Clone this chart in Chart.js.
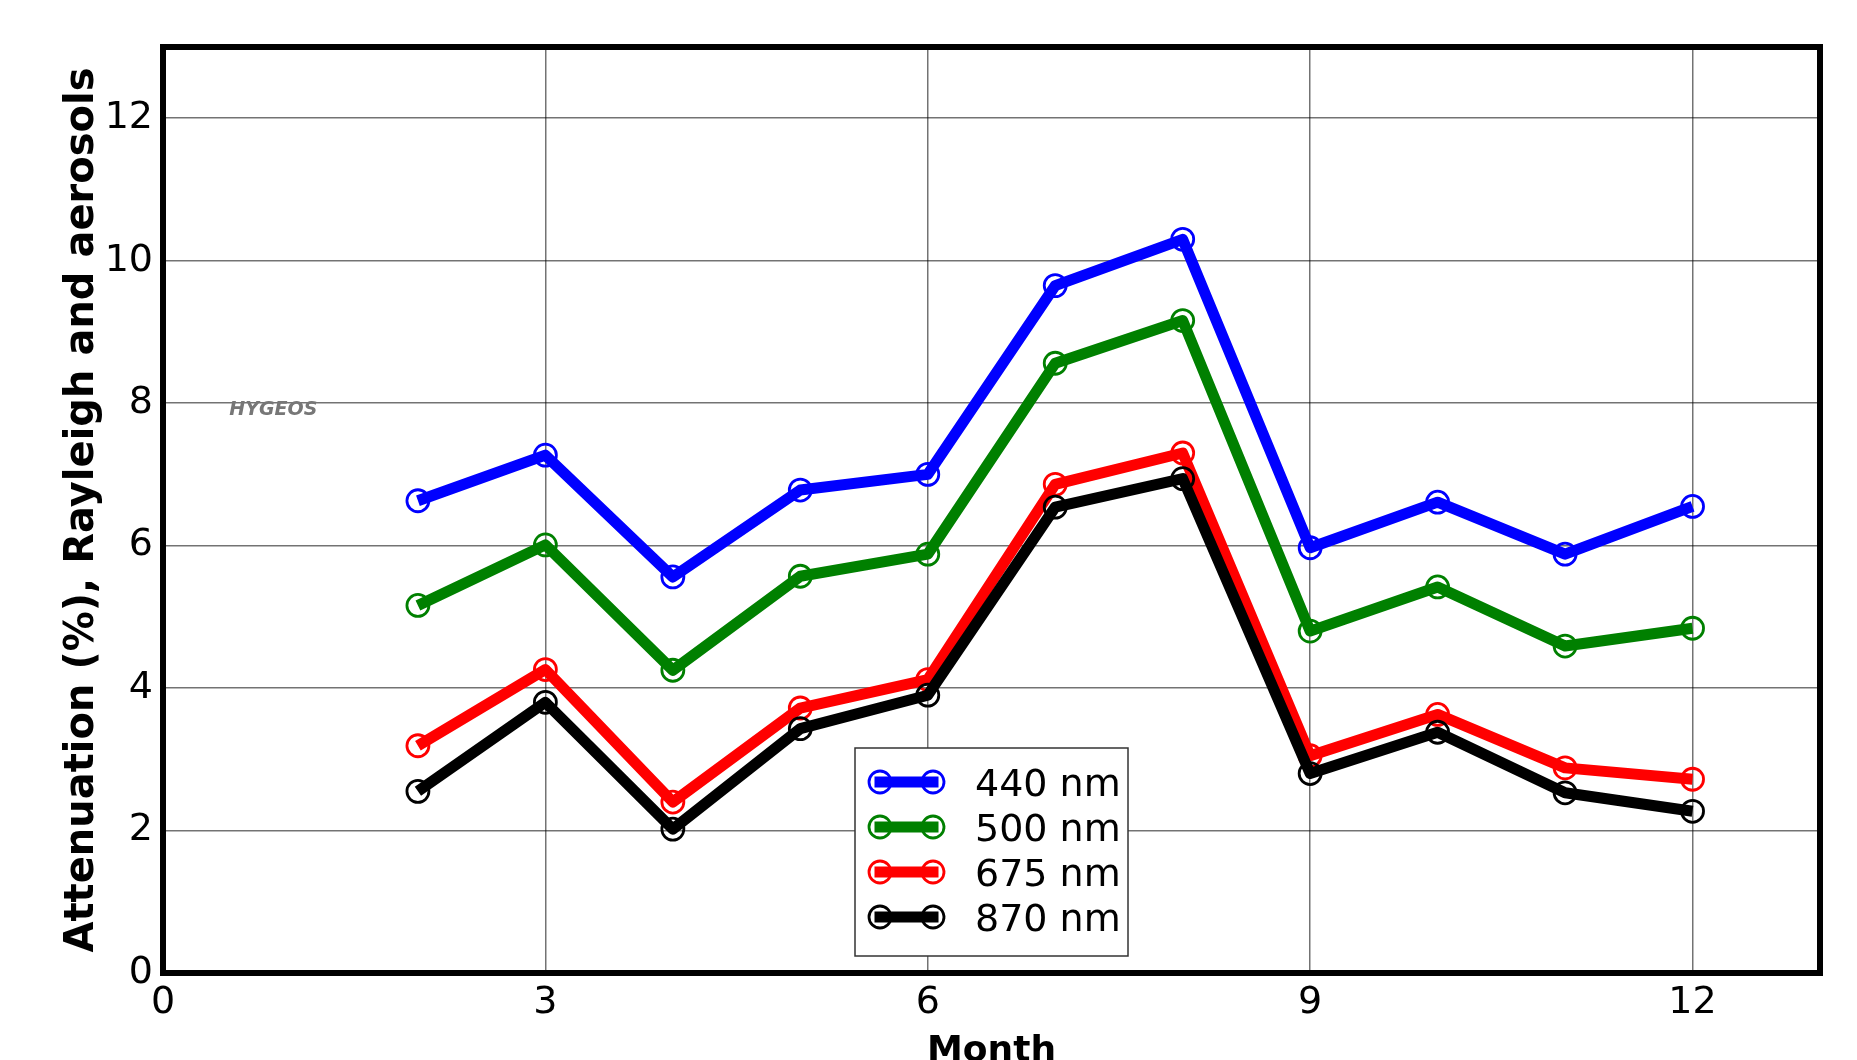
<!DOCTYPE html>
<html lang="en">
<head>
    <meta charset="UTF-8">
    <title>Attenuation by month</title>
    <script src="https://cdn.jsdelivr.net/npm/chart.js"></script>
    <style>
        html, body {
            margin: 0;
            padding: 0;
            background: #fff;
            overflow: hidden;
        }
        #wrap {
            position: relative;
            width: 1857px;
            height: 1080px;
        }
    </style>
</head>
<body>
    <div id="wrap"><canvas id="attChart"></canvas></div>

    <script>
        // data
        const months = [2, 3, 4, 5, 6, 7, 8, 9, 10, 11, 12];
        const att440 = [6.63, 7.27, 5.56, 6.78, 7.00, 9.65, 10.30, 5.97, 6.61, 5.88, 6.55];
        const att500 = [5.16, 6.01, 4.25, 5.57, 5.88, 8.56, 9.16, 4.80, 5.42, 4.59, 4.84];
        const att675 = [3.19, 4.26, 2.40, 3.72, 4.12, 6.86, 7.30, 3.05, 3.63, 2.88, 2.72];
        const att870 = [2.55, 3.80, 2.02, 3.43, 3.90, 6.54, 6.94, 2.80, 3.38, 2.53, 2.27];
        const seriesLabels = ['440 nm', '500 nm', '675 nm', '870 nm'];
        const seriesColors = ['#0000ff', '#008000', '#ff0000', '#000000'];
        const xTicks = [0, 3, 6, 9, 12];
        const yTicks = [0, 2, 4, 6, 8, 10, 12];

        const FONT = '"DejaVu Sans", "Liberation Sans", sans-serif';

        function series(values, i) {
            return {
                label: seriesLabels[i],
                data: months.map((m, k) => ({ x: m, y: values[k] })),
                borderColor: seriesColors[i],
                borderWidth: 11,
                borderJoinStyle: 'round',
                pointRadius: 11,
                pointBorderWidth: 2.8,
                pointBorderColor: seriesColors[i],
                pointBackgroundColor: 'rgba(0,0,0,0)',
                pointStyle: 'circle',
                order: 4 - i   // black drawn on top, like the original
            };
        }

        // frame, watermark and legend box drawn on top of the lines
        const framePlugin = {
            id: 'framePlugin',
            afterDatasetsDraw(chart) {
                const { ctx, chartArea: a, scales: { x, y } } = chart;
                ctx.save();

                ctx.font = 'italic bold 19px ' + FONT;
                ctx.fillStyle = '#777';
                ctx.textBaseline = 'middle';
                ctx.textAlign = 'left';
                ctx.fillText('HYGEOS', x.getPixelForValue(0.52), y.getPixelForValue(7.91));

                // legend
                const lx = a.left + 692, ly = a.top + 701, lw = 273, lh = 208;
                ctx.fillStyle = '#fff';
                ctx.fillRect(lx, ly, lw, lh);
                ctx.lineWidth = 1.5;
                ctx.strokeStyle = '#333';
                ctx.strokeRect(lx, ly, lw, lh);

                chart.data.datasets.forEach((ds, i) => {
                    const cy = ly + 34 + i * 45;
                    ctx.strokeStyle = ds.borderColor;
                    ctx.lineWidth = 11;
                    ctx.lineCap = 'square';
                    ctx.beginPath();
                    ctx.moveTo(lx + 25, cy);
                    ctx.lineTo(lx + 78, cy);
                    ctx.stroke();
                    ctx.lineWidth = 2.8;
                    [lx + 25, lx + 78].forEach(px => {
                        ctx.beginPath();
                        ctx.arc(px, cy, 11, 0, Math.PI * 2);
                        ctx.stroke();
                    });
                    ctx.fillStyle = '#000';
                    ctx.font = '38px ' + FONT;
                    ctx.textBaseline = 'alphabetic';
                    ctx.fillText(ds.label, lx + 120, cy + 14);
                });

                // thick axes box
                ctx.lineWidth = 6;
                ctx.strokeStyle = '#000';
                ctx.strokeRect(a.left, a.top, a.right - a.left, a.bottom - a.top);
                ctx.restore();
            }
        };

        const ctx = document.getElementById('attChart').getContext('2d');
        new Chart(ctx, {
            type: 'line',
            data: {
                datasets: [
                    series(att440, 0),
                    series(att500, 1),
                    series(att675, 2),
                    series(att870, 3)
                ]
            },
            options: {
                responsive: true,
                maintainAspectRatio: false,
                animation: false,
                devicePixelRatio: 1,
                layout: { padding: { left: 0, top: 47, right: 37, bottom: 0 } },
                plugins: {
                    legend: { display: false },
                    tooltip: { enabled: false }
                },
                scales: {
                    x: {
                        type: 'linear',
                        min: 0,
                        max: 13,
                        afterBuildTicks: s => { s.ticks = xTicks.map(v => ({ value: v })); },
                        afterFit: s => { s.height = 107; },
                        ticks: {
                            color: '#000',
                            font: { family: FONT, size: 38 },
                            padding: 7,
                            autoSkip: false,
                            maxRotation: 0
                        },
                        grid: { color: 'rgba(0,0,0,0.55)', lineWidth: 1.5, drawTicks: false },
                        border: { display: false },
                        title: {
                            display: true,
                            text: 'Month',
                            color: '#000',
                            font: { family: FONT, size: 36, weight: 'bold' },
                            padding: { top: 0, bottom: 7 }
                        }
                    },
                    y: {
                        type: 'linear',
                        min: 0,
                        max: 13,
                        afterBuildTicks: s => { s.ticks = yTicks.map(v => ({ value: v })); },
                        afterFit: s => { s.width = 163; },
                        ticks: {
                            color: '#000',
                            font: { family: FONT, size: 38 },
                            padding: 10,
                            autoSkip: false
                        },
                        grid: { color: 'rgba(0,0,0,0.55)', lineWidth: 1.5, drawTicks: false },
                        border: { display: false },
                        title: {
                            display: true,
                            text: 'Attenuation (%), Rayleigh and aerosols',
                            color: '#000',
                            font: { family: FONT, size: 40, weight: 'bold' },
                            padding: { top: 59, bottom: 0 }
                        }
                    }
                }
            },
            plugins: [framePlugin]
        });
    </script>
</body>
</html>
